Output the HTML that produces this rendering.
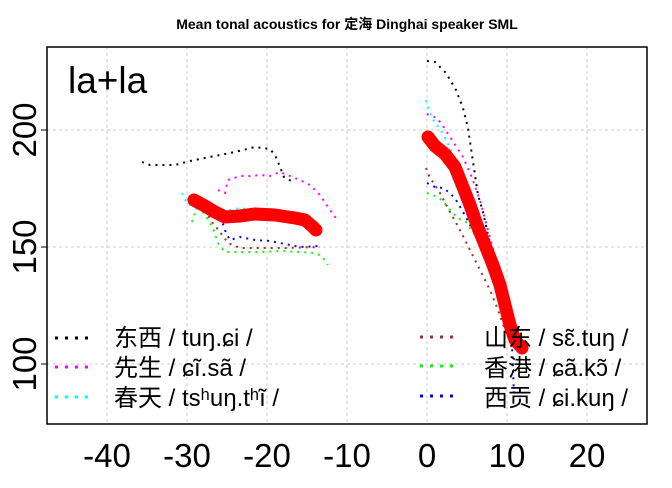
<!DOCTYPE html>
<html><head><meta charset="utf-8"><style>body{margin:0;background:#fff}</style></head><body>
<svg width="672" height="483" xmlns="http://www.w3.org/2000/svg" font-family="Liberation Sans, Noto Sans CJK SC, sans-serif">
<rect width="672" height="483" fill="#fff"/>
<text x="347" y="29" font-size="14" font-weight="bold" text-anchor="middle">Mean tonal acoustics for 定海 Dinghai speaker SML</text>
<g stroke="#ccc" stroke-dasharray="3,3" stroke-width="1">
<line x1="107" y1="47" x2="107" y2="424"/><line x1="187" y1="47" x2="187" y2="424"/><line x1="267" y1="47" x2="267" y2="424"/><line x1="347" y1="47" x2="347" y2="424"/><line x1="427" y1="47" x2="427" y2="424"/><line x1="507" y1="47" x2="507" y2="424"/><line x1="587" y1="47" x2="587" y2="424"/>
<line x1="47" y1="130" x2="647" y2="130"/><line x1="47" y1="247" x2="647" y2="247"/><line x1="47" y1="364" x2="647" y2="364"/>
</g>
<rect x="47" y="47" width="600" height="377" fill="none" stroke="#000" stroke-width="1.5"/>
<g stroke="#000"><line x1="41" y1="130" x2="47" y2="130"/><line x1="41" y1="247" x2="47" y2="247"/><line x1="41" y1="364" x2="47" y2="364"/></g>
<g font-size="33" text-anchor="middle">
<text x="107" y="467">-40</text><text x="187" y="467">-30</text><text x="267" y="467">-20</text><text x="347" y="467">-10</text><text x="427" y="467">0</text><text x="507" y="467">10</text><text x="587" y="467">20</text>
<text transform="translate(36,130) rotate(-90)">200</text><text transform="translate(36,247) rotate(-90)">150</text><text transform="translate(36,364) rotate(-90)">100</text>
</g>
<text x="68" y="93" font-size="37">la+la</text>
<g fill="none" stroke-width="2" stroke-dasharray="2,5">
<polyline stroke="#000" points="142,162 150,165 175,165 190,161 235,152 255,147 270,149 275,155 280,167 284,177 293,182"/>
<polyline stroke="#f0f" points="218,190 225,193 228,180 240,176 250,176 260,175 270,176 280,172 290,176 300,180 310,185 320,195 330,210 336,218"/>
<polyline stroke="#0ff" points="182,193 187,203 195,208 205,212 215,212 225,211 240,208 255,210 270,212 280,216 290,219 305,222"/>
<polyline stroke="#0f0" points="192,222 195,213 200,208 207,218 213,228 218,243 225,252 240,252 260,252 280,251 300,252 315,253 322,256 328,265"/>
<polyline stroke="#a52a2a" points="205,210 212,222 220,232 228,243 240,248 260,248 285,248 320,247"/>
<polyline stroke="#00f" points="220,217 223,224 226,233 230,240 240,237 255,240 270,241 285,244 300,247 320,246"/>
<polyline stroke="#000" points="427,61 435,62 446,73 456,90 463,108 468,128 472,155 475,175 478,195 483,212 488,235 492,252 497,268 502,285 505,300 509,320 512,340 516,350"/>
<polyline stroke="#f0f" points="427,114 437,118 443,126 452,140 462,155 471,175 480,200 488,230 496,260 505,290 512,312 518,338 524,352"/>
<polyline stroke="#0ff" points="426,100 432,118 441,130 450,148 461,170 470,195 480,220 490,248 498,270 506,295 512,320 517,340"/>
<polyline stroke="#a52a2a" points="426,168 430,178 435,185 440,193 450,212 460,230 470,250 480,270 490,290 498,310 505,330 512,345"/>
<polyline stroke="#00f" points="427,183 435,187 443,188 450,193 456,200 462,210 470,225 478,240 485,255 492,270 500,290 505,305 510,325 512,345 513,370 514,395"/>
<polyline stroke="#0f0" points="427,193 435,196 442,200 450,210 458,218 466,222 478,240 488,262 496,285 504,305 510,325 516,342 522,355"/>
</g>
<g fill="none" stroke="#f00" stroke-width="13" stroke-linecap="round" stroke-linejoin="round">
<polyline points="194,200 205,206 215,212 225,217 240,216 255,214 275,215 295,218 305,220 312,226 316,230"/>
<polyline points="428,137 435,146 445,154 455,167 463,187 470,205 477,225 485,245 493,265 500,285 505,305 510,325 515,340 522,348"/>
</g>
<g stroke-width="3" stroke-dasharray="3,7" fill="none">
<line x1="55" y1="338" x2="88" y2="338" stroke="#000"/><line x1="55" y1="367" x2="88" y2="367" stroke="#f0f"/><line x1="55" y1="397" x2="88" y2="397" stroke="#0ff"/>
<line x1="420" y1="337" x2="458" y2="337" stroke="#a52a2a"/><line x1="420" y1="366" x2="458" y2="366" stroke="#0f0"/><line x1="420" y1="396" x2="458" y2="396" stroke="#00f"/>
</g>
<g font-size="24">
<text x="114" y="346">东西 / tuŋ.ɕi /</text><text x="114" y="376">先生 / ɕĩ.sã /</text><text x="114" y="406">春天 / tsʰuŋ.tʰĩ /</text>
<text x="484" y="346">山东 / sɛ̃.tuŋ /</text><text x="484" y="376">香港 / ɕã.kɔ̃ /</text><text x="484" y="406">西贡 / ɕi.kuŋ /</text>
</g>
</svg>
</body></html>
